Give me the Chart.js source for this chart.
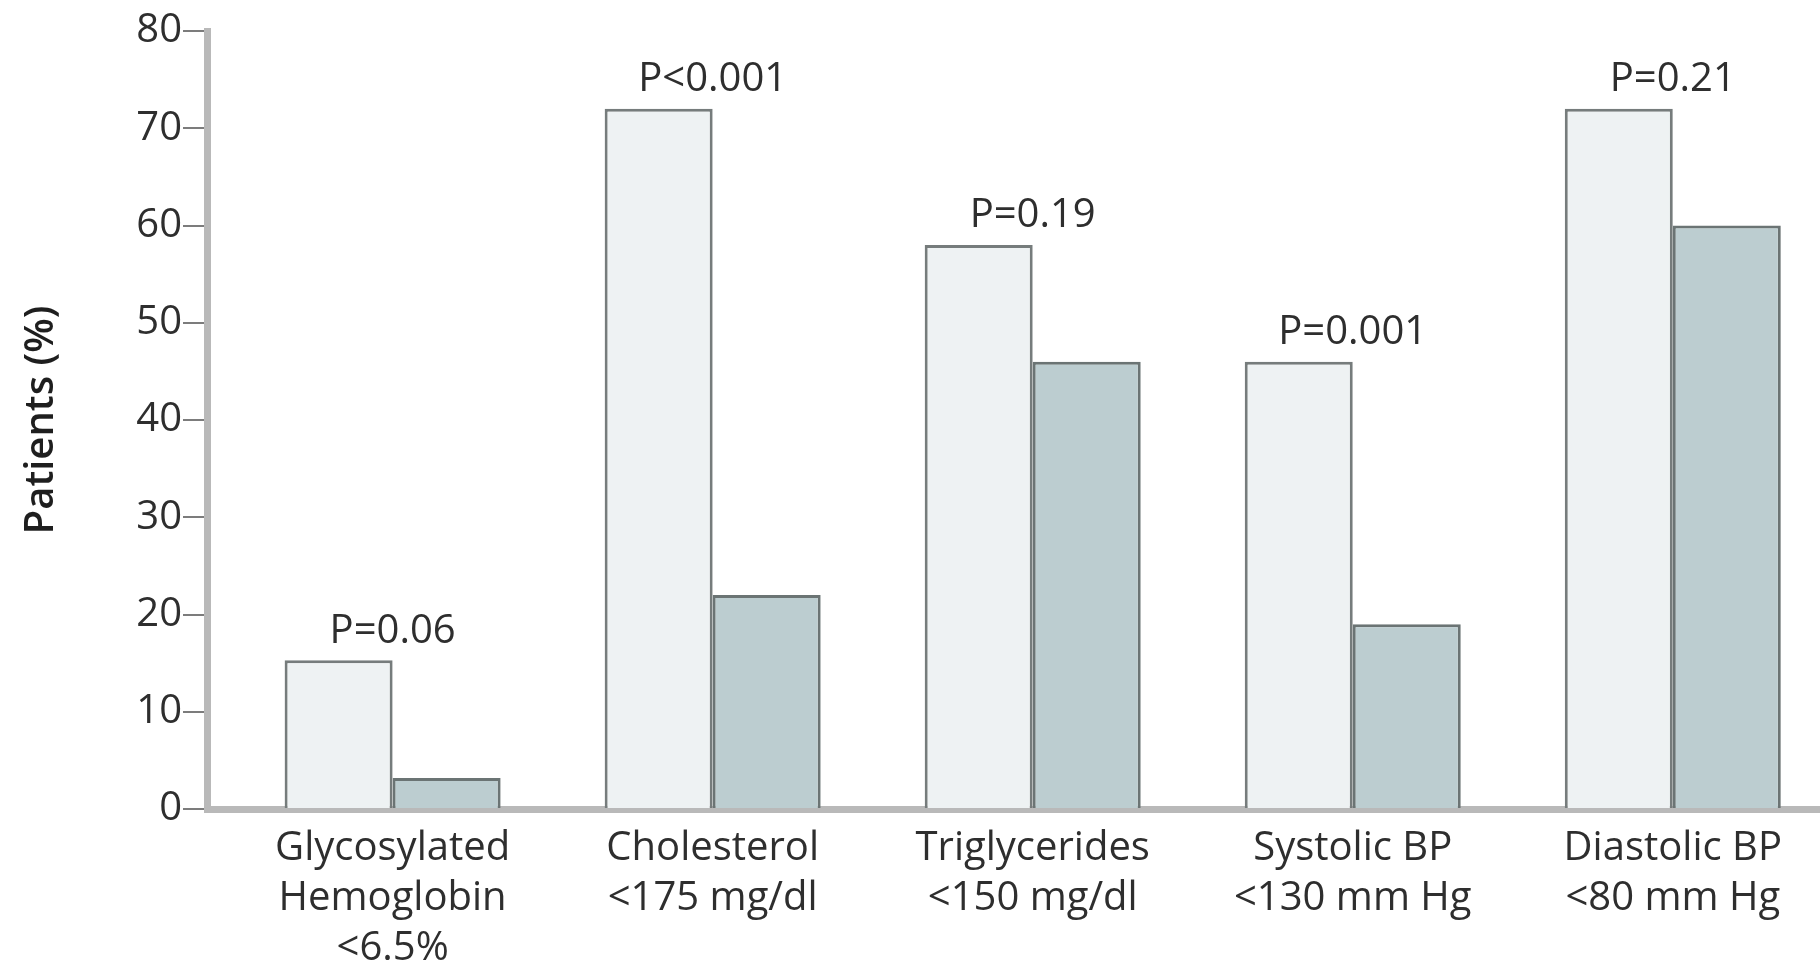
<!DOCTYPE html>
<html>
<head>
<meta charset="utf-8">
<script src="https://cdn.jsdelivr.net/npm/chart.js@4.4.1/dist/chart.umd.min.js"></script>
<style>
  html, body { margin: 0; padding: 0; background: #ffffff; }
  #wrap { width: 1820px; height: 965px; position: relative; }
</style>
</head>
<body>
<div id="wrap"><canvas id="c"></canvas></div>
<script>
// ---- data ----
const categories = [
  ['Glycosylated', 'Hemoglobin', '<6.5%'],
  ['Cholesterol', '<175 mg/dl'],
  ['Triglycerides', '<150 mg/dl'],
  ['Systolic BP', '<130 mm Hg'],
  ['Diastolic BP', '<80 mm Hg']
];
const lightValues = [15.3, 72, 58, 46, 72];
const darkValues = [3.2, 22, 46, 19, 60];
const pLabels = ['P=0.06', 'P<0.001', 'P=0.19', 'P=0.001', 'P=0.21'];
const yTicks = [0, 10, 20, 30, 40, 50, 60, 70, 80];
const yTitle = 'Patients (%)';

const positions = categories.map((c, i) => i);
const toPoints = vals => vals.map((v, i) => ({ x: positions[i], y: v }));

const textColor = '#2e2e2e';
Chart.defaults.font.family = "'Open Sans', 'Noto Sans', sans-serif";
Chart.defaults.color = textColor;

const pLabelPlugin = {
  id: 'pLabels',
  afterDatasetsDraw(chart) {
    const { ctx, scales: { x, y } } = chart;
    ctx.save();
    ctx.font = "40px 'Open Sans', 'Noto Sans', sans-serif";
    ctx.fillStyle = textColor;
    ctx.textAlign = 'center';
    ctx.textBaseline = 'middle';
    pLabels.forEach((lab, i) => {
      const top = Math.max(lightValues[i], darkValues[i]);
      ctx.fillText(lab, x.getPixelForValue(positions[i]), y.getPixelForValue(top) - 29);
    });
    ctx.restore();
  }
};

new Chart(document.getElementById('c'), {
  type: 'bar',
  data: {
    datasets: [
      {
        label: 'A',
        data: toPoints(lightValues),
        backgroundColor: '#eef2f3',
        borderColor: '#767c7c',
        borderWidth: 3,
        categoryPercentage: 0.675,
        barPercentage: 1.0
      },
      {
        label: 'B',
        data: toPoints(darkValues),
        backgroundColor: '#bccdd0',
        borderColor: '#6b7474',
        borderWidth: 3,
        categoryPercentage: 0.675,
        barPercentage: 1.0
      }
    ]
  },
  options: {
    responsive: true,
    maintainAspectRatio: false,
    animation: false,
    layout: { padding: { top: 31, right: 0, bottom: 0, left: 0 } },
    plugins: {
      legend: { display: false },
      tooltip: { enabled: false }
    },
    scales: {
      x: {
        type: 'linear',
        min: -0.58,
        max: 4.46,
        offset: false,
        z: 1,
        grid: { display: false, drawTicks: false, offset: false },
        border: { display: true, color: '#b9b9b9', width: 7 },
        afterBuildTicks: s => { s.ticks = positions.map(v => ({ value: v })); },
        afterFit: s => { s.height = 156; },
        ticks: {
          autoSkip: false,
          maxRotation: 0,
          padding: 15,
          color: textColor,
          font: { size: 40, lineHeight: 1.25 },
          callback: v => categories[v]
        }
      },
      y: {
        min: 0,
        max: 80,
        afterBuildTicks: s => { s.ticks = yTicks.map(v => ({ value: v })); },
        afterFit: s => { s.width = 207; },
        grid: {
          display: true,
          drawOnChartArea: false,
          drawTicks: true,
          tickLength: 24,
          tickColor: '#7c7c7c',
          lineWidth: 2
        },
        border: { display: true, color: '#b9b9b9', width: 7 },
        ticks: {
          padding: 1,
          color: textColor,
          font: { size: 40 }
        },
        title: {
          display: true,
          text: yTitle,
          color: '#1e1e1e',
          font: { size: 40, weight: '600' },
          padding: { top: 18, bottom: 0 }
        }
      }
    }
  },
  plugins: [pLabelPlugin]
});
</script>
</body>
</html>
